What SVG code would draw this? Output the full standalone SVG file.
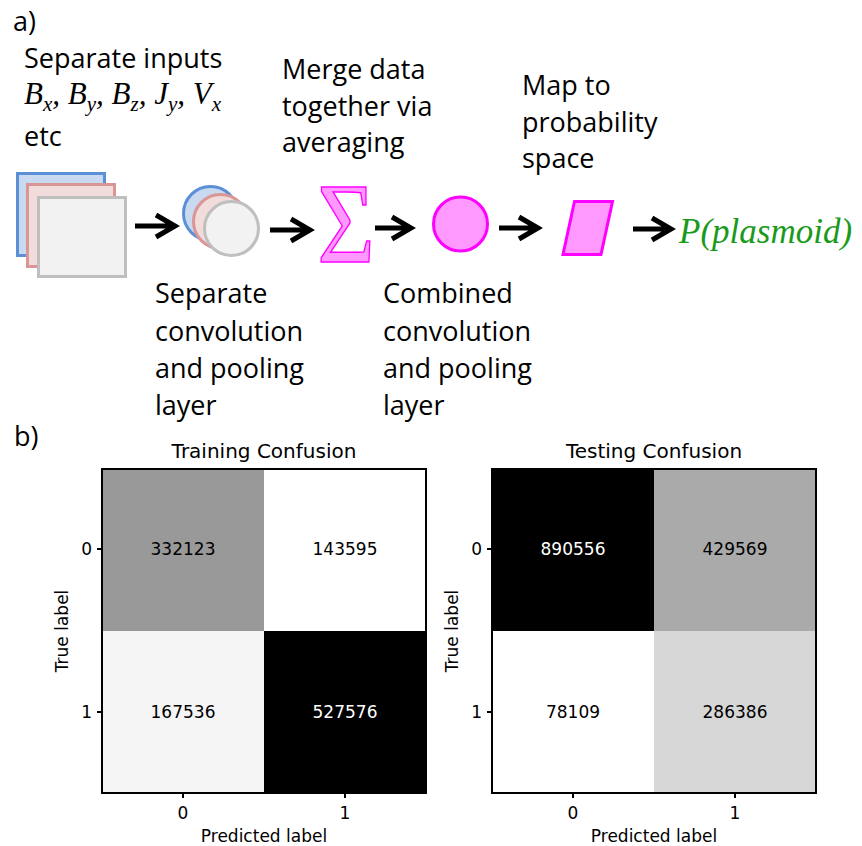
<svg xmlns="http://www.w3.org/2000/svg" width="862" height="846" viewBox="0 0 862 846">
<style>
.lbl{font-family:"Open Sans","Liberation Sans",sans-serif;font-size:27px;fill:#000}
.math{font-family:"Liberation Serif",serif;font-style:italic;font-size:31px;fill:#000}
.arrow{fill:none;stroke:#000;stroke-width:5;stroke-linejoin:miter;stroke-linecap:butt}
.mag{fill:#FF99FF;stroke:#FF00FF;stroke-width:3}
.plt{font-family:"DejaVu Sans",sans-serif;font-size:17px;fill:#000}
.ttl{font-family:"DejaVu Sans",sans-serif;font-size:20px;fill:#000;text-anchor:middle}
.num{font-family:"DejaVu Sans",sans-serif;font-size:17px;text-anchor:middle}
.frame{fill:none;stroke:#000;stroke-width:2}
.tick{stroke:#000;stroke-width:2}
</style>
<rect width="862" height="846" fill="#fff"/>

<!-- Panel a -->
<text class="lbl" x="13" y="31">a)</text>
<g id="inputs-label">
<text class="lbl" x="24" y="68">Separate inputs</text>
<text class="math" x="24" y="104">B<tspan dy="7" font-size="21">x</tspan><tspan dy="-7">, B</tspan><tspan dy="7" font-size="21">y</tspan><tspan dy="-7">, B</tspan><tspan dy="7" font-size="21">z</tspan><tspan dy="-7">, J</tspan><tspan dy="7" font-size="21">y</tspan><tspan dy="-7">, V</tspan><tspan dy="7" font-size="21">x</tspan></text>
<text class="lbl" x="24" y="146">etc</text>
</g>

<g id="inputs">
<rect x="17.5" y="173.5" width="87" height="82" fill="#C9DAF0" stroke="#5B8FD6" stroke-width="3"/>
<rect x="27.5" y="184.5" width="87" height="82" fill="#F2DCDB" stroke="#D99694" stroke-width="3"/>
<rect x="38.5" y="197.5" width="87" height="79" fill="#F2F2F2" stroke="#BFBFBF" stroke-width="3"/>
</g>

<g id="separate-conv">
<circle cx="210.5" cy="213.5" r="27" fill="#C9DAF0" stroke="#5B8FD6" stroke-width="3"/>
<circle cx="220.5" cy="221.5" r="27" fill="#F2DCDB" stroke="#D99694" stroke-width="3"/>
<circle cx="231.5" cy="228.5" r="27" fill="#F2F2F2" stroke="#BFBFBF" stroke-width="3"/>
</g>
<g id="separate-conv-label">
<text class="lbl" x="155" y="303">Separate</text>
<text class="lbl" x="155" y="341">convolution</text>
<text class="lbl" x="155" y="378">and pooling</text>
<text class="lbl" x="155" y="415">layer</text>
</g>

<g id="merge">
<text x="0" y="0" transform="translate(346,262) scale(0.86,1)" font-family="Liberation Serif,serif" font-size="115" text-anchor="middle" fill="#FF99FF" stroke="#FF00FF" stroke-width="1.5">Σ</text>
</g>
<g id="merge-label">
<text class="lbl" x="282" y="79">Merge data</text>
<text class="lbl" x="282" y="116">together via</text>
<text class="lbl" x="282" y="152">averaging</text>
</g>

<g id="combined-conv">
<circle class="mag" cx="460.5" cy="224" r="27" stroke-width="3.5"/>
</g>
<g id="combined-conv-label">
<text class="lbl" x="383" y="303">Combined</text>
<text class="lbl" x="383" y="341">convolution</text>
<text class="lbl" x="383" y="378">and pooling</text>
<text class="lbl" x="383" y="415">layer</text>
</g>

<g id="map">
<polygon class="mag" points="574.5,201.5 612.5,201.5 601,254.5 563,254.5"/>
</g>
<g id="map-label">
<text class="lbl" x="522" y="95">Map to</text>
<text class="lbl" x="522" y="132">probability</text>
<text class="lbl" x="522" y="168">space</text>
</g>

<g id="output">
<text x="679" y="243" font-family="Liberation Serif,serif" font-style="italic" font-size="35" fill="#1A9A1A">P(plasmoid)</text>
</g>

<g id="connectors">
<path class="arrow" d="M135 226 H174 M156 215 L175 226 L156 237"/>
<path class="arrow" d="M270 230 H309 M291 219 L310 230 L291 241"/>
<path class="arrow" d="M375 228 H410 M392 217 L411 228 L392 239"/>
<path class="arrow" d="M499 228 H537 M519 217 L538 228 L519 239"/>
<path class="arrow" d="M633 229 H670 M652 218 L671 229 L652 240"/>
</g>

<!-- Panel b -->
<text class="lbl" x="14" y="446">b)</text>

<g id="training-confusion">
<text class="ttl" x="264" y="458">Training Confusion</text>
<rect x="102" y="469" width="162" height="162" fill="#999999"/>
<rect x="264" y="469" width="162" height="162" fill="#FFFFFF"/>
<rect x="102" y="631" width="162" height="162" fill="#F5F5F5"/>
<rect x="264" y="631" width="162" height="162" fill="#000000"/>
<text class="num" x="183" y="555" fill="#000">332123</text>
<text class="num" x="345" y="555" fill="#000">143595</text>
<text class="num" x="183" y="718" fill="#000">167536</text>
<text class="num" x="345" y="718" fill="#fff">527576</text>
<rect class="frame" x="102" y="469" width="324" height="324"/>
<path class="tick" d="M97 549 H102 M97 712 H102 M183 793 V798 M345 793 V798"/>
<text class="plt" x="92" y="555" text-anchor="end">0</text>
<text class="plt" x="92" y="718" text-anchor="end">1</text>
<text class="plt" x="183" y="819" text-anchor="middle">0</text>
<text class="plt" x="345" y="819" text-anchor="middle">1</text>
<text class="plt" x="264" y="842" text-anchor="middle">Predicted label</text>
<text class="plt" transform="translate(68,631) rotate(-90)" text-anchor="middle">True label</text>
</g>

<g id="testing-confusion">
<text class="ttl" x="654" y="458">Testing Confusion</text>
<rect x="492" y="469" width="162" height="162" fill="#000000"/>
<rect x="654" y="469" width="162" height="162" fill="#AAAAAA"/>
<rect x="492" y="631" width="162" height="162" fill="#FFFFFF"/>
<rect x="654" y="631" width="162" height="162" fill="#D7D7D7"/>
<text class="num" x="573" y="555" fill="#fff">890556</text>
<text class="num" x="735" y="555" fill="#000">429569</text>
<text class="num" x="573" y="718" fill="#000">78109</text>
<text class="num" x="735" y="718" fill="#000">286386</text>
<rect class="frame" x="492" y="469" width="324" height="324"/>
<path class="tick" d="M487 549 H492 M487 712 H492 M573 793 V798 M735 793 V798"/>
<text class="plt" x="482" y="555" text-anchor="end">0</text>
<text class="plt" x="482" y="718" text-anchor="end">1</text>
<text class="plt" x="573" y="819" text-anchor="middle">0</text>
<text class="plt" x="735" y="819" text-anchor="middle">1</text>
<text class="plt" x="654" y="842" text-anchor="middle">Predicted label</text>
<text class="plt" transform="translate(458,631) rotate(-90)" text-anchor="middle">True label</text>
</g>
</svg>
